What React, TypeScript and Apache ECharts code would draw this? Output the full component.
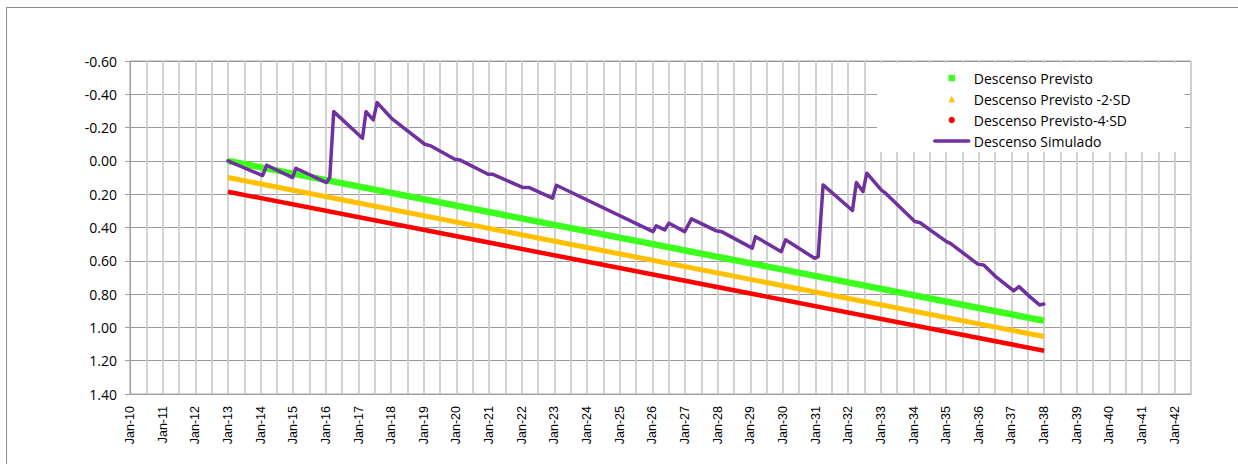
import React, { useEffect, useRef } from "react";
import * as echarts from "echarts";

// Series names
const seriesNames = [
  "Descenso Previsto",
  "Descenso Previsto -2·SD",
  "Descenso Previsto-4·SD",
  "Descenso Simulado",
];

// Axis ranges / ticks
const xMin = 2010;
const xMax = 2042.5;
const yTicks = [-0.6, -0.4, -0.2, 0, 0.2, 0.4, 0.6, 0.8, 1.0, 1.2, 1.4];

// Forecast lines [year, value]
const previsto: [number, number][] = [
  [2013.0, 0.0],
  [2038.0, 0.96],
];
const previsto2SD: [number, number][] = [
  [2013.0, 0.1],
  [2038.0, 1.055],
];
const previsto4SD: [number, number][] = [
  [2013.0, 0.185],
  [2038.0, 1.14],
];

// Simulated drawdown [year, value]
const simulado: [number, number][] = [
  [2013.0, 0.0],
  [2014.06, 0.088],
  [2014.19, 0.026],
  [2014.98, 0.1],
  [2015.08, 0.044],
  [2016.02, 0.13],
  [2016.12, 0.1],
  [2016.24, -0.296],
  [2017.12, -0.136],
  [2017.23, -0.296],
  [2017.45, -0.246],
  [2017.57, -0.35],
  [2018.01, -0.256],
  [2018.11, -0.24],
  [2019.03, -0.1],
  [2019.19, -0.092],
  [2019.95, -0.01],
  [2020.1, -0.006],
  [2020.97, 0.08],
  [2021.1, 0.08],
  [2022.04, 0.16],
  [2022.23, 0.16],
  [2022.94, 0.224],
  [2023.06, 0.146],
  [2026.02, 0.425],
  [2026.12, 0.39],
  [2026.38, 0.414],
  [2026.51, 0.374],
  [2026.99, 0.425],
  [2027.2, 0.348],
  [2027.96, 0.42],
  [2028.12, 0.425],
  [2029.06, 0.524],
  [2029.16, 0.455],
  [2029.95, 0.545],
  [2030.08, 0.474],
  [2030.97, 0.585],
  [2031.08, 0.575],
  [2031.23, 0.144],
  [2032.13, 0.298],
  [2032.25, 0.13],
  [2032.45, 0.184],
  [2032.57, 0.074],
  [2033.01, 0.174],
  [2033.12, 0.19],
  [2034.04, 0.364],
  [2034.19, 0.37],
  [2035.01, 0.485],
  [2035.13, 0.495],
  [2035.97, 0.62],
  [2036.15, 0.625],
  [2036.49, 0.69],
  [2037.07, 0.78],
  [2037.23, 0.755],
  [2037.56, 0.815],
  [2037.86, 0.865],
  [2037.99, 0.86],
];

const colors = ["#3cff1e", "#ffc000", "#ff0000", "#7030a0"];

export default function App() {
  const ref = useRef<HTMLDivElement>(null);

  useEffect(() => {
    if (!ref.current) return;
    const chart = echarts.init(ref.current, undefined, { renderer: "svg" });
    const uiFont = "'Open Sans', 'Noto Sans', sans-serif";
    chart.setOption({
      animation: false,
      backgroundColor: "#ffffff",
      grid: {
        left: 130,
        top: 61,
        right: 47,
        bottom: 70,
        show: true,
        borderColor: "#a0a0a0",
        borderWidth: 1,
        backgroundColor: "transparent",
      },
      graphic: [
        {
          type: "rect",
          silent: true,
          z: -10,
          shape: { x: 6.5, y: 7.5, width: 1400, height: 600 },
          style: { fill: "none", stroke: "#8c8c8c", lineWidth: 1 },
        },
      ],
      legend: {
        orient: "vertical",
        left: 877,
        top: 63,
        padding: [8, 54, 4, 56],
        backgroundColor: "#ffffff",
        itemWidth: 34,
        itemHeight: 8,
        itemGap: 7,
        textStyle: {
          fontFamily: uiFont,
          fontSize: 14,
          color: "#000",
          lineHeight: 14,
        },
        data: [
          { name: seriesNames[0], lineStyle: { opacity: 0 } },
          { name: seriesNames[1], lineStyle: { opacity: 0 } },
          { name: seriesNames[2], lineStyle: { opacity: 0 } },
          { name: seriesNames[3], lineStyle: { width: 3.5 }, itemStyle: { opacity: 0 } },
        ],
      },
      xAxis: {
        type: "value",
        min: xMin,
        max: xMax,
        interval: 0.5,
        axisLine: { onZero: false, lineStyle: { color: "#a0a0a0", width: 1 } },
        axisTick: { show: false },
        splitLine: { show: true, lineStyle: { color: "#cdcdcd", width: 1.8 } },
        axisLabel: {
          rotate: 90,
          margin: 12,
          fontFamily: "'Liberation Sans', Arial, sans-serif",
          fontSize: 12.5,
          color: "#000",
          showMaxLabel: true,
          showMinLabel: true,
          formatter: (v: number) => {
            const r = Math.round(v);
            if (Math.abs(v - r) > 1e-6) return "";
            return "Jan-" + String(r % 100).padStart(2, "0");
          },
        },
      },
      yAxis: {
        type: "value",
        inverse: true,
        min: yTicks[0],
        max: yTicks[yTicks.length - 1],
        interval: 0.2,
        axisLine: { show: true, onZero: false, lineStyle: { color: "#a0a0a0", width: 1 } },
        axisTick: { show: true, length: 5, lineStyle: { color: "#a0a0a0" } },
        splitLine: { show: true, lineStyle: { color: "#999999", width: 1.2 } },
        axisLabel: {
          margin: 13,
          fontFamily: uiFont,
          fontSize: 14,
          color: "#000",
          formatter: (v: number) => v.toFixed(2),
        },
      },
      series: [
        {
          name: seriesNames[0],
          type: "line",
          data: previsto,
          symbol: "rect",
          showSymbol: false,
          color: colors[0],
          lineStyle: { color: colors[0], width: 6.5 },
          z: 2,
        },
        {
          name: seriesNames[1],
          type: "line",
          data: previsto2SD,
          symbol: "triangle",
          showSymbol: false,
          color: colors[1],
          lineStyle: { color: colors[1], width: 5 },
          z: 2,
        },
        {
          name: seriesNames[2],
          type: "line",
          data: previsto4SD,
          symbol: "circle",
          showSymbol: false,
          color: colors[2],
          lineStyle: { color: colors[2], width: 4.5 },
          z: 2,
        },
        {
          name: seriesNames[3],
          type: "line",
          data: simulado,
          symbol: "none",
          color: colors[3],
          lineStyle: { color: colors[3], width: 3.5, join: "round", cap: "round" },
          z: 3,
        },
      ],
    });
    return () => chart.dispose();
  }, []);

  return (
    <div
      ref={ref}
      style={{ position: "fixed", left: 0, top: 0, width: 1238, height: 464 }}
    />
  );
}
